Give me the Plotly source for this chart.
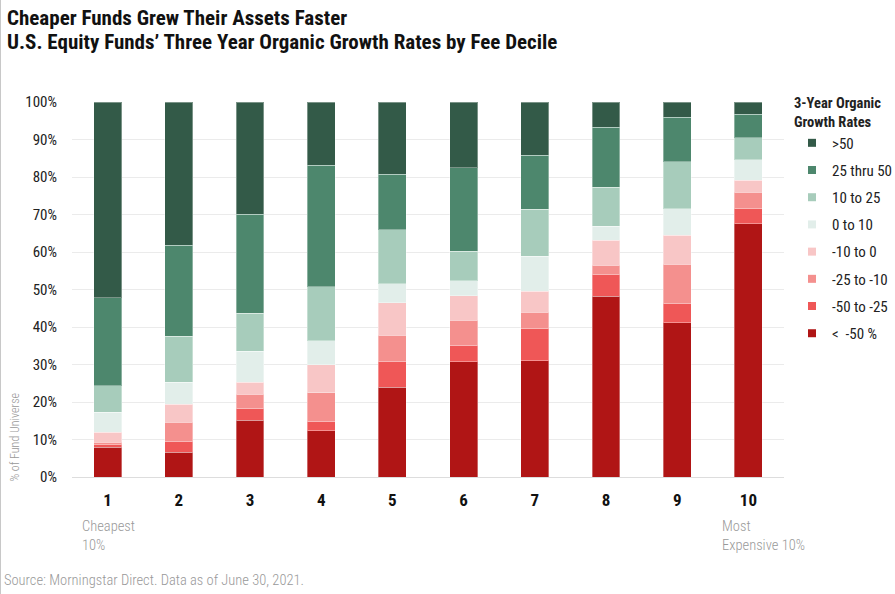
import plotly.graph_objects as go

deciles = ["1", "2", "3", "4", "5", "6", "7", "8", "9", "10"]

# Share of funds (%) in each organic-growth bucket, per fee decile
lt_neg50   = [8.0, 6.6, 15.1, 12.4, 24.0, 30.7, 31.0, 48.2, 41.1, 67.6]
neg50_25   = [0.6, 3.0, 3.3, 2.5, 6.9, 4.5, 8.6, 5.7, 5.3, 4.0]
neg25_10   = [0.7, 5.0, 3.7, 7.6, 6.9, 6.6, 4.4, 2.6, 10.4, 4.4]
neg10_0    = [2.6, 4.8, 3.2, 7.4, 8.7, 6.5, 5.6, 6.7, 7.7, 3.2]
pos0_10    = [5.4, 5.9, 8.3, 6.4, 5.0, 4.1, 9.3, 3.7, 7.1, 5.4]
pos10_25   = [7.0, 12.3, 10.1, 14.4, 14.4, 7.8, 12.5, 10.4, 12.5, 5.9]
pos25_50   = [23.5, 24.2, 26.4, 32.4, 14.9, 22.3, 14.4, 16.0, 11.9, 6.3]
gt_50      = [52.2, 38.2, 29.9, 16.9, 19.2, 17.5, 14.2, 6.7, 4.0, 3.2]

bucket_names = ["<  -50 %", "-50 to -25", "-25 to -10", "-10 to 0",
                "0 to 10", "10 to 25", "25 thru 50", ">50"]
bucket_values = [lt_neg50, neg50_25, neg25_10, neg10_0, pos0_10, pos10_25, pos25_50, gt_50]
bucket_colors = ["#B01515", "#EF5757", "#F4908E", "#F8C6C6",
                 "#E2EEEA", "#A7CCBB", "#4D876D", "#335A48"]

y_ticks = list(range(0, 101, 10))
y_ticktext = [f"{v}%" for v in y_ticks]

FONT = "Roboto Condensed, Roboto, sans-serif"

# plot-area geometry (px)
W, H = 895, 594
ML, MR, MT, MB = 72, 111, 102, 117
PW = W - ML - MR

fig = go.Figure()
for name, vals, color in zip(bucket_names, bucket_values, bucket_colors):
    fig.add_trace(go.Bar(
        x=deciles, y=vals, name=name, showlegend=False,
        marker=dict(color=color, line=dict(color="rgba(255,255,255,0.35)", width=1)),
        hovertemplate="%{y:.1f}%<extra>" + name + "</extra>",
    ))

# legend entries (top to bottom: >50 ... < -50)
for i, (name, color) in enumerate(zip(bucket_names[::-1], bucket_colors[::-1])):
    fig.add_trace(go.Scatter(
        x=[None], y=[None], mode="markers", name=name, legendgroup=f"g{i}",
        marker=dict(symbol="square", size=8, color=color),
        hoverinfo="skip",
    ))

fig.update_layout(
    barmode="stack",
    bargap=0.607,
    width=W, height=H,
    margin=dict(l=ML, r=MR, t=MT, b=MB, autoexpand=False),
    plot_bgcolor="white", paper_bgcolor="white",
    font=dict(family=FONT, size=15, color="#222"),
    showlegend=True,
    legend=dict(
        x=(792 - ML) / PW, xanchor="left", y=1.035, yanchor="top",
        traceorder="grouped",
        tracegroupgap=4.7,
        title=dict(text="<b>3-Year Organic<br>Growth Rates</b>", font=dict(size=14.5, color="#222")),
        font=dict(size=15, color="#222"),
        itemwidth=30,
        bgcolor="rgba(0,0,0,0)",
    ),
    xaxis=dict(
        type="category",
        tickfont=dict(size=17, color="#111", family=FONT, weight="bold"),
        ticklabelstandoff=11,
        showgrid=False, showline=False, ticks="",
    ),
    yaxis=dict(
        range=[0, 100],
        tickvals=y_ticks,
        ticktext=y_ticktext,
        tickfont=dict(size=15, color="#222"),
        ticklabelstandoff=14,
        showgrid=True, gridcolor="#ebebeb", gridwidth=1,
        zeroline=True, zerolinecolor="#dddddd", zerolinewidth=1,
        ticks="", showline=False,
    ),
)

def px_x(p):
    return (p - ML) / PW

fig.add_annotation(xref="paper", yref="paper", x=px_x(5), y=1.0, yshift=MT - 4,
                   xanchor="left", yanchor="top", align="left", showarrow=False,
                   text="<b>Cheaper Funds Grew Their Assets Faster</b>",
                   font=dict(size=21, color="#111", family=FONT))
fig.add_annotation(xref="paper", yref="paper", x=px_x(5), y=1.0, yshift=MT - 28,
                   xanchor="left", yanchor="top", align="left", showarrow=False,
                   text="<b>U.S. Equity Funds’ Three Year Organic Growth Rates by Fee Decile</b>",
                   font=dict(size=21, color="#111", family=FONT))
fig.add_annotation(xref="paper", yref="paper", x=px_x(80), y=0, yshift=-(516 - (H - MB)),
                   xanchor="left", yanchor="top", align="left", showarrow=False,
                   text="Cheapest<br>10%", font=dict(size=14.5, color="#999", weight=300))
fig.add_annotation(xref="paper", yref="paper", x=px_x(720), y=0, yshift=-(516 - (H - MB)),
                   xanchor="left", yanchor="top", align="left", showarrow=False,
                   text="Most<br>Expensive 10%", font=dict(size=14.5, color="#999", weight=300))
fig.add_annotation(xref="paper", yref="paper", x=px_x(2), y=0, yshift=-(570 - (H - MB)),
                   xanchor="left", yanchor="top", align="left", showarrow=False,
                   text="Source: Morningstar Direct. Data as of June 30, 2021.",
                   font=dict(size=14.5, color="#999", weight=300))
fig.add_annotation(xref="paper", yref="paper", x=px_x(5), y=0, yshift=-(484 - (H - MB)),
                   xanchor="left", yanchor="bottom", showarrow=False, textangle=-90,
                   text="% of Fund Universe", font=dict(size=12, color="#999", weight=300))

# thin frame line at the left edge of the image
fig.add_shape(type="line", xref="paper", yref="paper", x0=px_x(0.5), x1=px_x(0.5),
              y0=-MB / (H - MT - MB), y1=1 + MT / (H - MT - MB),
              line=dict(color="#c8c8c8", width=1))

fig.write_html("out.html", config={"displayModeBar": False},
               post_script="document.body.style.margin='0px';document.body.style.overflow='hidden';")
